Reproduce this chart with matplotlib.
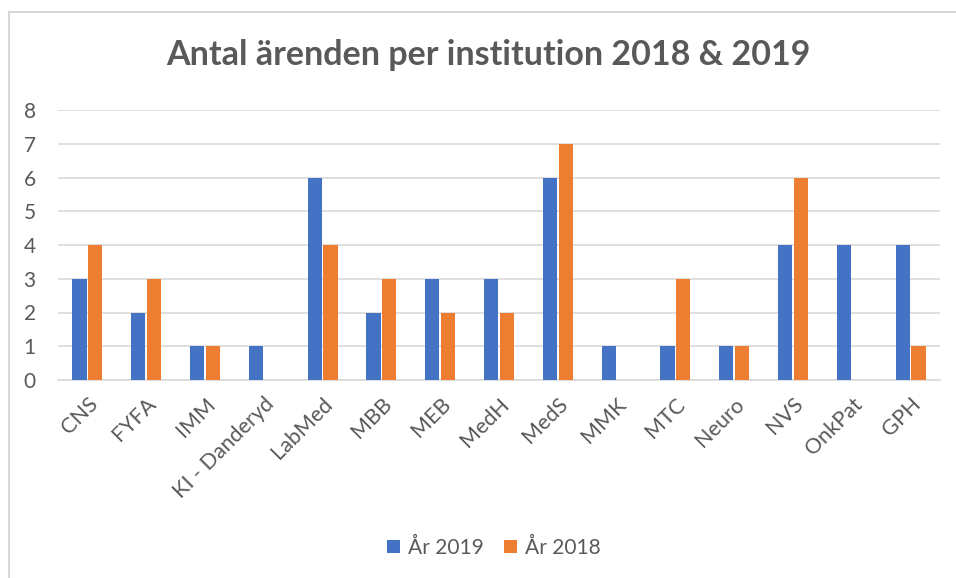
import matplotlib
matplotlib.use("Agg")
import matplotlib.pyplot as plt
import numpy as np
from matplotlib.patches import Rectangle

categories = ["CNS", "FYFA", "IMM", "KI - Danderyd", "LabMed", "MBB", "MEB", "MedH",
              "MedS", "MMK", "MTC", "Neuro", "NVS", "OnkPat", "GPH"]
values_2019 = [3, 2, 1, 1, 6, 2, 3, 3, 6, 1, 1, 1, 4, 4, 4]
values_2018 = [4, 3, 1, 0, 4, 3, 2, 2, 7, 0, 3, 1, 6, 0, 1]
series_labels = ["År 2019", "År 2018"]
title = "Antal ärenden per institution 2018 & 2019"

blue = "#4472C4"
orange = "#ED7D31"
text_gray = "#595959"
grid_gray = "#D9D9D9"

plt.rcParams['font.family'] = ['Lato', 'DejaVu Sans']

fig = plt.figure(figsize=(9.56, 5.78), dpi=100)
fig.patch.set_facecolor("white")

# outer chart border
fig.patches.append(Rectangle((8.5/956, -0.05), 1.0, 1 - 11.5/578 + 0.05,
                             transform=fig.transFigure, fill=False,
                             edgecolor="#D0D0D0", linewidth=1.2, zorder=0))

ax = fig.add_axes([58/956, 1 - 380/578, (940 - 58)/956, (380 - 110)/578])

x = np.arange(len(categories))
w = 0.24
gap = 0.03
ax.bar(x - (w + gap)/2, values_2019, width=w, color=blue, label=series_labels[0], zorder=3)
ax.bar(x + (w + gap)/2, values_2018, width=w, color=orange, label=series_labels[1], zorder=3)

ax.set_xlim(-0.5, len(categories) - 0.5)
ax.set_ylim(0, 8)
ax.set_yticks(range(0, 9))
ax.yaxis.grid(True, color=grid_gray, linewidth=1.2, zorder=0)
ax.set_axisbelow(True)
for s in ["top", "right", "left"]:
    ax.spines[s].set_visible(False)
ax.spines["bottom"].set_color(grid_gray)
ax.spines["bottom"].set_linewidth(1.2)
ax.tick_params(axis="both", length=0, colors=text_gray)
ax.tick_params(axis="y", pad=16, labelsize=15)
ax.tick_params(axis="x", pad=10)
ax.set_xticks(x)
ax.set_xticklabels(categories, rotation=45, ha="right", rotation_mode="anchor",
                   fontsize=15.5, color=text_gray)

fig.text(488/956, 1 - 55/578, title, ha="center", va="center",
         fontsize=24.5, fontweight="bold", color=text_gray)

handles, labels = ax.get_legend_handles_labels()
fig.legend(handles, labels, loc="center", bbox_to_anchor=(494/956, 1 - 548/578),
           ncol=2, frameon=False, fontsize=15, labelcolor=text_gray,
           handlelength=0.6, handleheight=0.6, handletextpad=0.4, columnspacing=1.0)

fig.savefig("out.png", dpi=100, facecolor="white")
